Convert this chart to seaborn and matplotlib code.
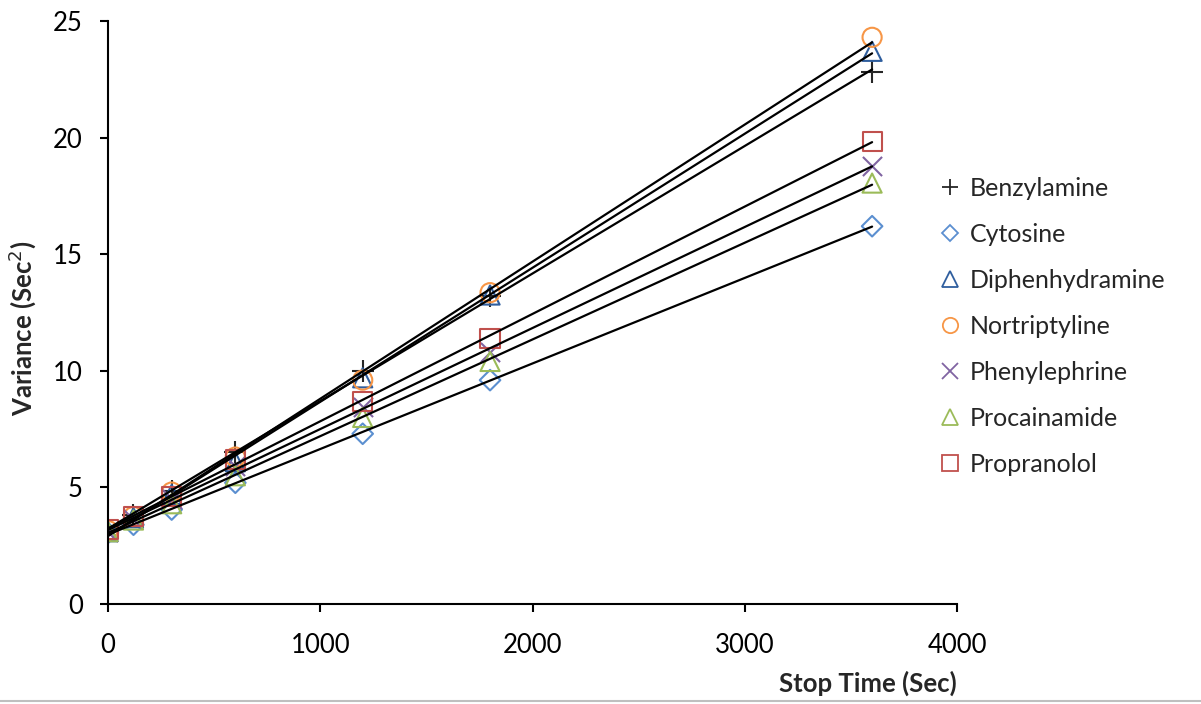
import numpy as np
import pandas as pd
import matplotlib
matplotlib.use("Agg")
import matplotlib.pyplot as plt
import seaborn as sns

stop_time = [0, 120, 300, 600, 1200, 1800, 3600]
compounds = ["Benzylamine", "Cytosine", "Diphenhydramine", "Nortriptyline",
             "Phenylephrine", "Procainamide", "Propranolol"]
benzylamine = [3.15, 3.8, 4.85, 6.5, 10.0, 13.2, 22.8]
cytosine = [3.05, 3.4, 4.05, 5.2, 7.3, 9.6, 16.2]
diphenhydramine = [3.1, 3.7, 4.7, 6.1, 9.7, 13.25, 23.7]
nortriptyline = [3.15, 3.75, 4.8, 6.3, 9.6, 13.35, 24.3]
phenylephrine = [3.1, 3.65, 4.5, 5.9, 8.45, 10.8, 18.8]
procainamide = [3.1, 3.6, 4.3, 5.5, 8.0, 10.4, 18.05]
propranolol = [3.2, 3.75, 4.6, 6.2, 8.7, 11.4, 19.85]
x_ticks = [0, 1000, 2000, 3000, 4000]
y_ticks = [0, 5, 10, 15, 20, 25]

series = [benzylamine, cytosine, diphenhydramine, nortriptyline,
          phenylephrine, procainamide, propranolol]
markers = ["+", "D", "^", "o", "x", "^", "s"]
colors = ["#262626", "#5B8FD0", "#2F5E9E", "#F79646", "#8064A2", "#9BBB59", "#C0504D"]
sizes = [230, 110, 190, 190, 190, 190, 190]

sns.set_style("white")
plt.rcParams["font.family"] = ["Lato", "DejaVu Sans"]

fig = plt.figure(figsize=(12.01, 7.04), dpi=100)
ax = fig.add_axes([108 / 1201, 1 - 604 / 704, (957 - 108) / 1201, (604 - 21) / 704])

handles = []
for name, vals, m, c, s in zip(compounds, series, markers, colors, sizes):
    df = pd.DataFrame({"t": stop_time, "v": vals})
    sns.regplot(data=df, x="t", y="v", scatter=False, ci=None, truncate=True,
                color="black", line_kws={"linewidth": 1.6, "zorder": 3}, ax=ax)
    if m in ("+", "x"):
        sns.scatterplot(data=df, x="t", y="v", marker=m, s=s, color=c,
                        linewidth=1.5, ax=ax, zorder=2)
    else:
        sns.scatterplot(data=df, x="t", y="v", marker=m, s=s, facecolors="none",
                        edgecolor=c, linewidth=1.5, ax=ax, zorder=2)
    handles.append(plt.Line2D([], [], linestyle="none", marker=m, markersize=11 if m != "D" else 8.5,
                              markerfacecolor="none" if m not in ("+", "x") else c,
                              markeredgecolor=c, markeredgewidth=1.3, label=name))

ax.set_xlim(0, 4000)
ax.set_ylim(0, 25)
ax.set_xticks(x_ticks)
ax.set_yticks(y_ticks)
for sp in ["top", "right"]:
    ax.spines[sp].set_visible(False)
for sp in ["left", "bottom"]:
    ax.spines[sp].set_color("black")
    ax.spines[sp].set_linewidth(1.5)
ax.tick_params(axis="both", direction="out", length=6, width=1.5, color="black",
               labelsize=18.5, labelcolor="black", bottom=True, left=True)
ax.tick_params(axis="x", pad=15)
ax.tick_params(axis="y", pad=12)
ax.set_xlabel("Stop Time (Sec)", fontsize=18.5, fontweight="bold", loc="right", labelpad=9)
ax.set_ylabel("Variance (Sec$^2$)", fontsize=18.5, fontweight="bold")
ax.yaxis.set_label_coords(-0.083, 0.472)
ax.grid(False)

fig.legend(handles=handles, loc="upper left", bbox_to_anchor=(930 / 1201, 1 - 167 / 704),
           frameon=False, fontsize=18, handlelength=0.8, handletextpad=0.4,
           labelspacing=0.92, borderaxespad=0)

fig.add_artist(plt.Line2D([0, 1], [1 - 701 / 704, 1 - 701 / 704], transform=fig.transFigure,
                          color="#BFBFBF", linewidth=1.5))

fig.savefig("out.png", dpi=100)
